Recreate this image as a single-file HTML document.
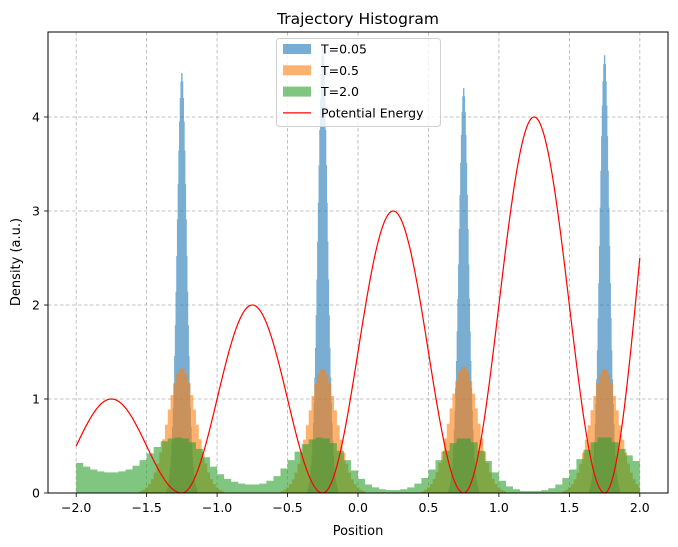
<!DOCTYPE html>
<html><head><meta charset="utf-8">
<style>
html,body{margin:0;padding:0;background:#fff;}
svg{display:block;font-family:"DejaVu Sans","Liberation Sans",sans-serif;}
</style></head>
<body>
<svg id="chart" width="678" height="547" viewBox="0 0 678 547">
<rect x="0" y="0" width="678" height="547" fill="#fff"/>
<defs><clipPath id="clip"><rect x="48" y="32" width="620" height="461"/></clipPath>
<clipPath id="histclip"><rect x="76" y="32" width="564" height="461"/></clipPath></defs>
<text x="358" y="24" text-anchor="middle" font-size="15.5" fill="#000">Trajectory Histogram</text>
<g id="grid"></g>
<g id="bars" clip-path="url(#histclip)"></g>
<g id="line" clip-path="url(#clip)"></g>
<rect x="48" y="32" width="620" height="461" fill="none" stroke="#000" stroke-width="1"/>
<g id="ticks"></g>
<text x="358" y="535" text-anchor="middle" font-size="13">Position</text>
<text x="0" y="0" transform="translate(20,262) rotate(-90)" text-anchor="middle" font-size="13">Density (a.u.)</text>
<g id="legend"></g>
</svg>
<script>
// ---- data ----
const xTicks = [-2.0,-1.5,-1.0,-0.5,0.0,0.5,1.0,1.5,2.0];
const xTickLabels = ["\u22122.0","\u22121.5","\u22121.0","\u22120.5","0.0","0.5","1.0","1.5","2.0"];
const yTicks = [0,1,2,3,4];
const yTickLabels = ["0","1","2","3","4"];
const wellCenters = [-1.25,-0.25,0.75,1.75];
// T=2.0 histogram, bins of 0.05 from -2 to 2
const greenStart = -2.0;
const greenBinWidth = 0.05;
const greenValues = [0.32,0.28,0.25,0.23,0.22,0.22,0.23,0.25,0.29,0.35,0.42,0.49,0.55,0.58,0.59,0.58,0.54,0.47,0.38,0.28,
0.20,0.15,0.12,0.10,0.09,0.09,0.10,0.13,0.18,0.26,0.35,0.44,0.52,0.57,0.59,0.58,0.53,0.45,0.35,0.24,
0.15,0.09,0.06,0.04,0.03,0.03,0.04,0.06,0.10,0.16,0.25,0.35,0.45,0.53,0.58,0.58,0.54,0.45,0.34,0.22,
0.13,0.07,0.04,0.02,0.02,0.02,0.03,0.05,0.09,0.16,0.25,0.36,0.46,0.54,0.59,0.59,0.54,0.47,0.40,0.34];
// T=0.5 histogram around each well (relative shape), bins of 0.02 spanning ±0.30
const orangeBinWidth = 0.02;
const orangeProfile = [0.015,0.026,0.044,0.071,0.110,0.164,0.236,0.325,0.430,0.546,0.667,0.783,0.882,0.956,0.995,
0.995,0.956,0.882,0.783,0.667,0.546,0.430,0.325,0.236,0.164,0.110,0.071,0.044,0.026,0.015];
const orangePeaks = [1.33,1.32,1.35,1.32];
// T=0.05 histogram around each well (relative shape), bins of 0.005 spanning ±0.11
const blueBinWidth = 0.005;
const blueProfile = [0.009,0.014,0.021,0.030,0.044,0.062,0.086,0.117,0.156,0.203,0.259,0.325,0.398,0.478,0.563,0.650,0.734,0.813,0.882,0.938,0.977,0.997,
0.997,0.977,0.938,0.882,0.813,0.734,0.650,0.563,0.478,0.398,0.325,0.259,0.203,0.156,0.117,0.086,0.062,0.044,0.030,0.021,0.014,0.009];
const bluePeaks = [4.48,4.75,4.32,4.67];
// potential barrier heights between wells
const barrierHeights = [1,2,3,4,5];

// ---- axes ----
const X0=48,X1=668,Y0=493,Y1=32;
const xMin=-2.2,xMax=2.2,yMin=0,yMax=4.904;
const sx=v=>X0+(v-xMin)/(xMax-xMin)*(X1-X0);
const sy=v=>Y0-(v-yMin)/(yMax-yMin)*(Y0-Y1);
const NS="http://www.w3.org/2000/svg";
function mk(tag,attrs,parent){const e=document.createElementNS(NS,tag);for(const k in attrs)e.setAttribute(k,attrs[k]);parent.appendChild(e);return e;}
const grid=document.getElementById('grid'),ticks=document.getElementById('ticks');
xTicks.forEach((t,i)=>{
  const x=sx(t);
  const g=mk('line',{x1:x,x2:x,y1:Y1,y2:Y0,stroke:'#b0b0b0','stroke-width':0.8,'stroke-dasharray':'3.5,2.5'},grid);
  
  
  const tk=mk('line',{x1:x,x2:x,y1:Y0,y2:Y0+4,stroke:'#000','stroke-width':0.8},ticks);
  
  
  const tl=mk('text',{x:x,y:Y0+19,'text-anchor':'middle','font-size':12.5},ticks);
  tl.textContent=xTickLabels[i];
  
  
});
yTicks.forEach((t,i)=>{
  const y=sy(t);
  const g=mk('line',{x1:X0,x2:X1,y1:y,y2:y,stroke:'#b0b0b0','stroke-width':0.8,'stroke-dasharray':'3.5,2.5'},grid);
  
  
  const tk=mk('line',{x1:X0-4,x2:X0,y1:y,y2:y,stroke:'#000','stroke-width':0.8},ticks);
  
  
  const tl=mk('text',{x:X0-8,y:y+4.5,'text-anchor':'end','font-size':12.5},ticks);
  tl.textContent=yTickLabels[i];
  
  
});

// ---- bars (each histogram block drawn as one step path) ----
const bars=document.getElementById('bars');
function stepPath(start,w,vals){
  let d='M'+sx(start).toFixed(2)+','+sy(0).toFixed(2);
  vals.forEach((v,i)=>{
    const y=sy(v).toFixed(2);
    d+='L'+sx(start+i*w).toFixed(2)+','+y+'L'+sx(start+(i+1)*w).toFixed(2)+','+y;
  });
  d+='L'+sx(start+vals.length*w).toFixed(2)+','+sy(0).toFixed(2)+'Z';
  return d;
}
wellCenters.forEach((c,w)=>{
  const start=c-blueProfile.length*blueBinWidth/2;
  const p=mk('path',{d:stepPath(start,blueBinWidth,blueProfile.map(v=>v*bluePeaks[w])),fill:'#1f77b4','fill-opacity':0.6},bars);
  
  
});
wellCenters.forEach((c,w)=>{
  const start=c-orangeProfile.length*orangeBinWidth/2;
  const p=mk('path',{d:stepPath(start,orangeBinWidth,orangeProfile.map(v=>v*orangePeaks[w])),fill:'#ff7f0e','fill-opacity':0.6},bars);
  
  
});
const gp=mk('path',{d:stepPath(greenStart,greenBinWidth,greenValues),fill:'#2ca02c','fill-opacity':0.6},bars);



// ---- potential line ----
function potential(x){
  const k=Math.min(barrierHeights.length-1,Math.max(0,Math.floor(x+1.25)+1));
  return barrierHeights[k]*(1+Math.sin(2*Math.PI*x))/2;
}
let d='';
for(let i=0;i<=800;i++){const x=-2+4*i/800;d+=(i?'L':'M')+sx(x).toFixed(2)+','+sy(potential(x)).toFixed(2);}
const pl=mk('path',{d:d,fill:'none',stroke:'#ff0000','stroke-width':1.2},document.getElementById('line'));



// ---- legend ----
const lg=document.getElementById('legend');
mk('rect',{x:276.5,y:38.5,width:164,height:88,rx:3,fill:'#fff','fill-opacity':0.8,stroke:'#d0d0d0'},lg);
const entries=[['T=0.05','#1f77b4','patch'],['T=0.5','#ff7f0e','patch'],['T=2.0','#2ca02c','patch'],['Potential Energy','#ff0000','line']];
entries.forEach((e,i)=>{
  const y=49+i*21.3;
  const g=mk('g',{},lg);
  
  
  if(e[2]==='patch') mk('rect',{x:283,y:y-5,width:28,height:10,fill:e[1],'fill-opacity':0.6},g);
  else mk('line',{x1:283,x2:311,y1:y,y2:y,stroke:e[1],'stroke-width':1.2},g);
  const t=mk('text',{x:321,y:y+4.5,'font-size':12.5},g);
  t.textContent=e[0];
});
</script>
</body></html>
